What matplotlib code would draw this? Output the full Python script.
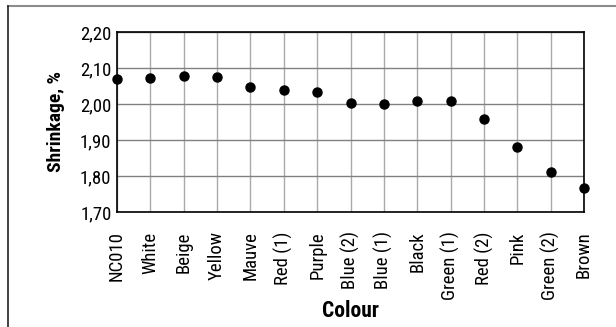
import matplotlib.pyplot as plt
from matplotlib.lines import Line2D
from matplotlib import font_manager

colours = ['NC010', 'White', 'Beige', 'Yellow', 'Mauve', 'Red (1)', 'Purple',
           'Blue (2)', 'Blue (1)', 'Black', 'Green (1)', 'Red (2)', 'Pink',
           'Green (2)', 'Brown']
shrinkage = [2.069, 2.072, 2.079, 2.076, 2.048, 2.038, 2.034,
             2.002, 2.001, 2.007, 2.008, 1.959, 1.881, 1.812, 1.767]
y_ticks = [1.70, 1.80, 1.90, 2.00, 2.10, 2.20]

# look for a condensed face; fall back to plain DejaVu
fonts = font_manager.fontManager.ttflist
names = {f.name for f in fonts}
family, stretch = 'DejaVu Sans', 'normal'
for cand in ['Liberation Sans Narrow', 'Roboto Condensed', 'DejaVu Sans Condensed',
             'Open Sans Condensed', 'Noto Sans Condensed']:
    if cand in names:
        family = cand
        break
else:
    for f in fonts:
        if f.name in ('Roboto', 'Noto Sans', 'Open Sans', 'DejaVu Sans') and 'condensed' in str(f.stretch):
            family, stretch = f.name, 'condensed'
            break
condensed = family != 'DejaVu Sans' or stretch != 'normal'
plt.rcParams['font.family'] = [family, 'DejaVu Sans']
plt.rcParams['font.stretch'] = stretch
fs = 13.5 if condensed else 10.5

fig = plt.figure(figsize=(6.16, 3.27), dpi=100)
ax = fig.add_axes([117 / 616, 1 - 212 / 327, 467 / 616, 180 / 327])

x = list(range(len(colours)))
ax.plot(x, shrinkage, 'o', color='black', markersize=6.5, clip_on=False, zorder=5)

ax.set_xlim(0, len(colours) - 1)
ax.set_ylim(1.70, 2.20)
ax.set_yticks(y_ticks)
ax.set_yticklabels([f'{v:.2f}'.replace('.', ',') for v in y_ticks], fontsize=fs)
ax.set_xticks(x)
ax.set_xticklabels(colours, rotation=90, fontsize=fs)
ax.tick_params(axis='y', length=0, pad=4)
ax.tick_params(axis='x', length=0, pad=14)

ax.grid(True, axis='y', color='#808080', linewidth=1)
ax.grid(True, axis='x', color='#aaaaaa', linewidth=1)
ax.set_axisbelow(True)
for s in ax.spines.values():
    s.set_linewidth(1.2)
    s.set_color('black')

ax.set_ylabel('Shrinkage, %', fontsize=14, fontweight='bold')
ax.set_xlabel('Colour', fontsize=15.5, fontweight='bold')
ax.yaxis.set_label_coords((65 - 117) / 467, 0.5)
ax.xaxis.set_label_coords(0.5, (212 - 300) / 180)

# outer frame: top and left only
fig.add_artist(Line2D([8 / 616, 1], [1 - 6 / 327, 1 - 6 / 327], color='#8c8c8c', linewidth=1.5))
fig.add_artist(Line2D([8 / 616, 8 / 616], [0, 1 - 6 / 327], color='#222222', linewidth=1.2))

fig.savefig('out.png', dpi=100)
